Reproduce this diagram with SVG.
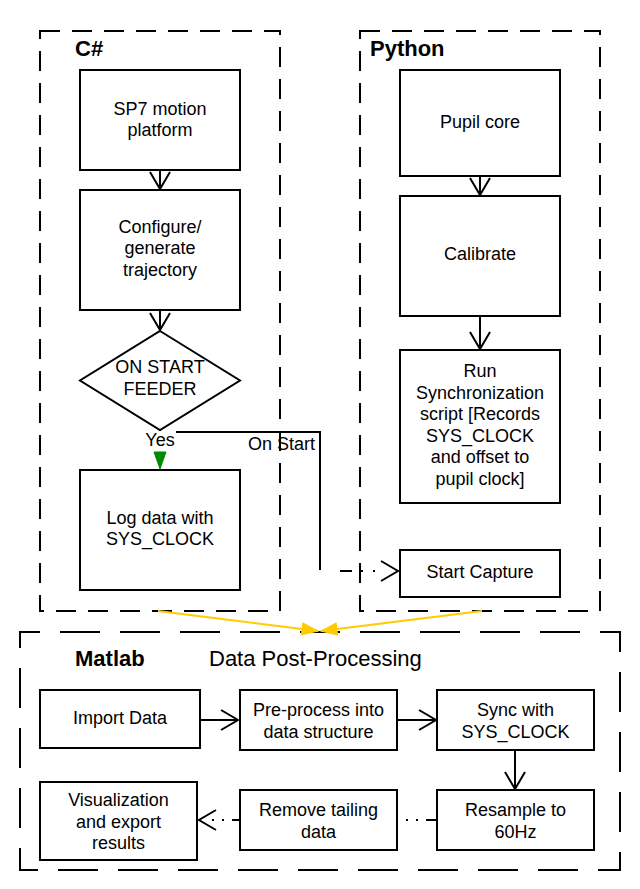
<svg xmlns="http://www.w3.org/2000/svg" width="640" height="889" viewBox="0 0 640 889">
<style>
  .box { fill: #fff; stroke: #000; stroke-width: 2; }
  .cont { fill: none; stroke: #000; stroke-width: 2; stroke-dasharray: 20 12; }
  .contm { fill: none; stroke: #000; stroke-width: 2; stroke-dasharray: 40 20; stroke-dashoffset: 20; }
  .t { font-family: "Liberation Sans", Arial, sans-serif; font-size: 18px; fill: #000; text-anchor: middle; }
  .title { font-family: "Liberation Sans", Arial, sans-serif; font-size: 22px; font-weight: bold; fill: #000; }
  .sub { font-family: "Liberation Sans", Arial, sans-serif; font-size: 22px; fill: #000; }
  .edge { fill: none; stroke: #000; stroke-width: 2; }
  .yel { fill: none; stroke: #FFCC00; stroke-width: 2; }
</style>
<defs>
  <marker id="open" viewBox="-20 -12 22 24" refX="0" refY="0" markerWidth="22" markerHeight="24" orient="auto" markerUnits="userSpaceOnUse">
    <path d="M-17,-10 L0,0 L-17,10" fill="none" stroke="#000" stroke-width="2"/>
  </marker>
  <marker id="yfill" viewBox="-17 -8 18 16" refX="0" refY="0" markerWidth="18" markerHeight="16" orient="auto" markerUnits="userSpaceOnUse">
    <path d="M-16,-6 L0,0 L-16,6 Z" fill="#FFCC00" stroke="#FFCC00" stroke-width="1"/>
  </marker>
</defs>
<rect width="640" height="889" fill="#fff"/>

<g id="csharp">
  <rect class="cont" x="40" y="31" width="240" height="580"/>
  <text class="title" x="75" y="56">C#</text>
</g>
<g id="python">
  <rect class="cont" x="360" y="31" width="240" height="580"/>
  <text class="title" x="370" y="56">Python</text>
</g>
<g id="matlab">
  <rect class="contm" x="20" y="632" width="600" height="238"/>
  <text class="title" x="75" y="666">Matlab</text>
  <text class="sub" x="209" y="666">Data Post-Processing</text>
</g>

<g id="connectors">
  <line class="edge" x1="160" y1="170" x2="160" y2="189" marker-end="url(#open)"/>
  <line class="edge" x1="160" y1="310" x2="160" y2="330" marker-end="url(#open)"/>
  <line class="edge" x1="480" y1="176" x2="480" y2="195" marker-end="url(#open)"/>
  <line class="edge" x1="480" y1="316" x2="480" y2="349" marker-end="url(#open)"/>
  <polyline class="edge" points="160,430 160,432 320,432 320,570"/>
  <line class="edge" x1="340" y1="571" x2="398" y2="571" stroke-dasharray="12 9 2 10 2 40" marker-end="url(#open)"/>
  <polygon points="154,452 166,452 160,469" fill="#008C00" stroke="#008C00" stroke-width="1"/>
  <line class="yel" x1="158" y1="611" x2="318" y2="631" marker-end="url(#yfill)"/>
  <line class="yel" x1="482" y1="611" x2="321" y2="631" marker-end="url(#yfill)"/>
  <line class="edge" x1="200" y1="720" x2="238" y2="720" marker-end="url(#open)"/>
  <line class="edge" x1="397" y1="720" x2="436" y2="720" marker-end="url(#open)"/>
  <line class="edge" x1="515" y1="750" x2="515" y2="789" marker-end="url(#open)"/>
  <line class="edge" x1="437" y1="820" x2="398" y2="820" stroke-dasharray="11 8 2 8 2 30"/>
  <line class="edge" x1="240" y1="820" x2="199" y2="820" stroke-dasharray="8 8 2 8 2 40" marker-end="url(#open)"/>
</g>

<g id="yes-label">
  <rect x="145" y="431" width="31" height="18" fill="#fff"/>
  <text class="t" x="160" y="446">Yes</text>
</g>
<g id="onstart-label">
  <text class="t" x="281.5" y="450">On Start</text>
</g>

<g id="sp7">
  <rect class="box" x="80" y="70" width="160" height="100"/>
  <text class="t" x="160" y="115">SP7 motion</text>
  <text class="t" x="160" y="136">platform</text>
</g>
<g id="configure">
  <rect class="box" x="80" y="190" width="160" height="120"/>
  <text class="t" x="160" y="233">Configure/</text>
  <text class="t" x="160" y="254">generate</text>
  <text class="t" x="160" y="276">trajectory</text>
</g>
<g id="feeder">
  <polygon class="box" points="160,331 240,380.5 160,430 80,380.5"/>
  <text class="t" x="160" y="373">ON START</text>
  <text class="t" x="160" y="395">FEEDER</text>
</g>
<g id="logdata">
  <rect class="box" x="80" y="470" width="160" height="120"/>
  <text class="t" x="160" y="524">Log data with</text>
  <text class="t" x="160" y="545">SYS_CLOCK</text>
</g>

<g id="pupil">
  <rect class="box" x="400" y="70" width="160" height="106"/>
  <text class="t" x="480" y="128">Pupil core</text>
</g>
<g id="calibrate">
  <rect class="box" x="400" y="196" width="160" height="120"/>
  <text class="t" x="480" y="260">Calibrate</text>
</g>
<g id="sync-script">
  <rect class="box" x="400" y="350" width="160" height="153"/>
  <text class="t" x="480" y="377">Run</text>
  <text class="t" x="480" y="399">Synchronization</text>
  <text class="t" x="480" y="420">script [Records</text>
  <text class="t" x="480" y="442">SYS_CLOCK</text>
  <text class="t" x="480" y="463">and offset to</text>
  <text class="t" x="480" y="485">pupil clock]</text>
</g>
<g id="startcapture">
  <rect class="box" x="400" y="550" width="160" height="47"/>
  <text class="t" x="480" y="578">Start Capture</text>
</g>

<g id="import">
  <rect class="box" x="40" y="690" width="160" height="58"/>
  <text class="t" x="120" y="724">Import Data</text>
</g>
<g id="preprocess">
  <rect class="box" x="240" y="690" width="157" height="60"/>
  <text class="t" x="318.5" y="716">Pre-process into</text>
  <text class="t" x="318.5" y="738">data structure</text>
</g>
<g id="syncclock">
  <rect class="box" x="437" y="690" width="157" height="60"/>
  <text class="t" x="515.5" y="716">Sync with</text>
  <text class="t" x="515.5" y="738">SYS_CLOCK</text>
</g>
<g id="resample">
  <rect class="box" x="437" y="790" width="157" height="60"/>
  <text class="t" x="515.5" y="816">Resample to</text>
  <text class="t" x="515.5" y="838">60Hz</text>
</g>
<g id="remove">
  <rect class="box" x="240" y="790" width="157" height="60"/>
  <text class="t" x="318.5" y="816">Remove tailing</text>
  <text class="t" x="318.5" y="838">data</text>
</g>
<g id="visualization">
  <rect class="box" x="40" y="782" width="157" height="78"/>
  <text class="t" x="118.5" y="806">Visualization</text>
  <text class="t" x="118.5" y="828">and export</text>
  <text class="t" x="118.5" y="849">results</text>
</g>
</svg>
